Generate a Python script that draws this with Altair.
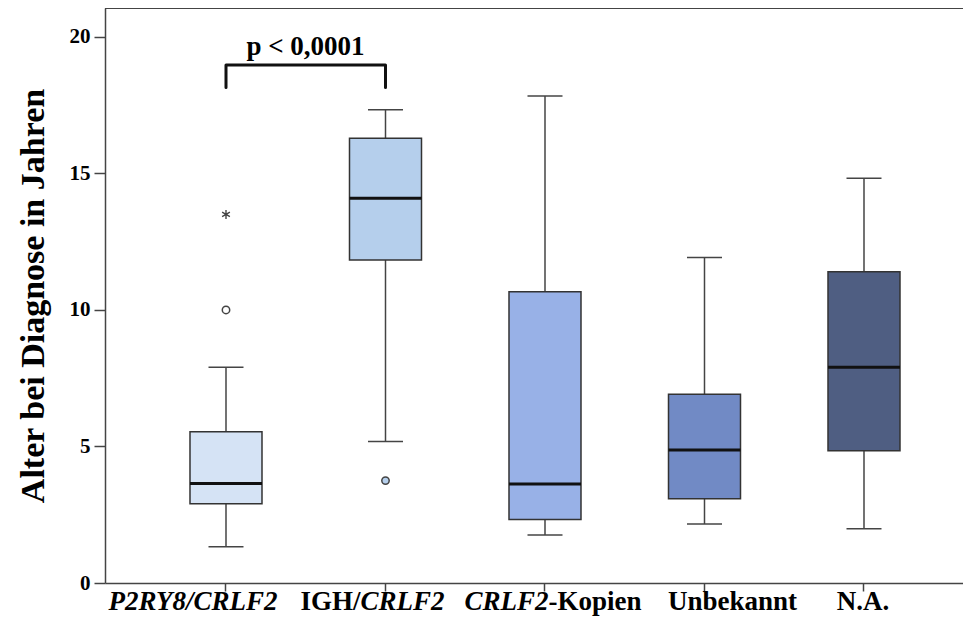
import altair as alt
import pandas as pd

# ---- data ----
categories = ["P2RY8/CRLF2", "IGH/CRLF2", "CRLF2-Kopien", "Unbekannt", "N.A."]
whisker_low = [1.33, 5.18, 1.76, 2.16, 1.99]
q1 = [2.90, 11.83, 2.33, 3.09, 4.84]
median = [3.64, 14.09, 3.63, 4.87, 7.90]
q3 = [5.54, 16.29, 10.67, 6.91, 11.40]
whisker_high = [7.90, 17.33, 17.84, 11.92, 14.82]
box_colors = ["#d5e3f5", "#b5cfec", "#98b1e7", "#718ac5", "#4f5e82"]

outlier_category = ["P2RY8/CRLF2", "P2RY8/CRLF2", "IGH/CRLF2"]
outlier_value = [10.0, 13.5, 3.75]
outlier_kind = ["circle", "star", "circle"]

y_ticks = [0, 5, 10, 15, 20]
y_title = "Alter bei Diagnose in Jahren"
p_text = "p < 0,0001"
bracket_from = "P2RY8/CRLF2"
bracket_to = "IGH/CRLF2"
bracket_top = 18.97
bracket_leg = 18.15
p_text_value = 19.33

W, H = 858, 575
SERIF = "Liberation Serif"
DARK = "#444444"

stats = pd.DataFrame({
    "cat": categories, "lo": whisker_low, "q1": q1, "med": median,
    "q3": q3, "hi": whisker_high,
})
outliers = pd.DataFrame({"cat": outlier_category, "val": outlier_value, "kind": outlier_kind})
bracket = pd.DataFrame({
    "cat": [bracket_from, bracket_from, bracket_to, bracket_to],
    "val": [bracket_leg, bracket_top, bracket_top, bracket_leg],
    "order": [0, 1, 2, 3],
})

xscale = alt.Scale(type="band", domain=categories, paddingInner=0,
                   paddingOuter=0.18966, align=0.6818)
xaxis = alt.Axis(labels=False, title=None, tickSize=8, tickColor=DARK, tickWidth=1.5,
                 domainColor=DARK, domainWidth=1.5, grid=False)
yscale = alt.Scale(domain=[0, 21.06], nice=False, zero=True)
yaxis = alt.Axis(values=y_ticks, title=y_title, titleFont=SERIF, titleFontSize=34,
                 titleFontWeight="bold", titleColor="black", titleAngle=-90,
                 titleX=-62, titleY=H / 2, titleAlign="center", titleBaseline="alphabetic",
                 labelFont=SERIF, labelFontSize=21, labelFontWeight="bold", labelColor="black",
                 labelPadding=4, tickSize=11, tickColor=DARK, tickWidth=1.5,
                 domainColor=DARK, domainWidth=1.5, grid=False)


def X():
    return alt.X("cat:N", scale=xscale, axis=xaxis, sort=categories)


def Y(field):
    return alt.Y(f"{field}:Q", scale=yscale, axis=yaxis)


base = alt.Chart(stats)

whisk_low = base.mark_rule(color=DARK, strokeWidth=1.5).encode(x=X(), y=Y("lo"), y2="q1:Q")
whisk_high = base.mark_rule(color=DARK, strokeWidth=1.5).encode(x=X(), y=Y("q3"), y2="hi:Q")
cap_low = base.mark_tick(size=35, thickness=1.5, color=DARK, opacity=1).encode(x=X(), y=Y("lo"))
cap_high = base.mark_tick(size=35, thickness=1.5, color=DARK, opacity=1).encode(x=X(), y=Y("hi"))
boxes = base.mark_bar(size=72, stroke="#333333", strokeWidth=1.5, opacity=1).encode(
    x=X(), y=Y("q1"), y2="q3:Q",
    fill=alt.Fill("cat:N", scale=alt.Scale(domain=categories, range=box_colors), legend=None),
)
medians = base.mark_tick(size=72, thickness=3, color="#111111", opacity=1).encode(x=X(), y=Y("med"))

out_base = alt.Chart(outliers)
circles = out_base.transform_filter(alt.datum.kind == "circle").mark_point(
    shape="circle", filled=True, size=55, stroke=DARK, strokeWidth=1.5, opacity=1
).encode(
    x=X(), y=Y("val"),
    fill=alt.condition(alt.datum.cat == "IGH/CRLF2", alt.value(box_colors[1]), alt.value("white")),
)
stars = out_base.transform_filter(alt.datum.kind == "star").mark_point(
    shape="M0,-1L0,1M-0.87,-0.5L0.87,0.5M-0.87,0.5L0.87,-0.5",
    filled=False, size=80, stroke=DARK, strokeWidth=1.4, opacity=1
).encode(x=X(), y=Y("val"))

bracket_line = alt.Chart(bracket).mark_line(
    color="#111111", strokeWidth=3, strokeJoin="round", strokeCap="round"
).encode(x=X(), y=Y("val"), order="order:Q")

p_label = alt.Chart(pd.DataFrame({"cat": [bracket_from], "val": [p_text_value], "t": [p_text]})).mark_text(
    font=SERIF, fontSize=27, fontWeight="bold", color="black", dx=79.5, baseline="alphabetic", align="center"
).encode(x=X(), y=Y("val"), text="t:N")

top_rule = alt.Chart(stats).mark_rule(color=DARK, strokeWidth=1.5).encode(
    x=alt.value(0), x2=alt.value(W), y=alt.value(0)
)

# x tick labels with mixed italics
LBL_Y = 602
FS = 27


def label_layer(cats, texts, italic, align, dx):
    d = pd.DataFrame({"cat": cats, "t": texts})
    return alt.Chart(d).mark_text(
        font=SERIF, fontSize=FS, fontWeight="bold", fontStyle="italic" if italic else "normal",
        color="black", align=align, baseline="alphabetic", dx=dx
    ).encode(x=X(), y=alt.value(LBL_Y), text="t:N")


lab1 = label_layer([categories[0]], ["P2RY8/CRLF2"], True, "center", -33)
lab2a = label_layer([categories[1]], ["IGH/"], False, "right", -25)
lab2b = label_layer([categories[1]], ["CRLF2"], True, "left", -25)
lab3a = label_layer([categories[2]], ["CRLF2"], True, "right", 3.5)
lab3b = label_layer([categories[2]], ["-Kopien"], False, "left", 3.5)
lab4 = label_layer([categories[3]], [categories[3]], False, "center", 28)
lab5 = label_layer([categories[4]], [categories[4]], False, "center", -1)

chart = alt.layer(
    whisk_low, whisk_high, cap_low, cap_high, boxes, medians, circles, stars,
    bracket_line, p_label, top_rule, lab1, lab2a, lab2b, lab3a, lab3b, lab4, lab5,
).properties(
    width=W, height=H,
    autosize=alt.AutoSizeParams(type="none"),
    padding={"left": 97, "top": 0, "right": 0, "bottom": 35},
    background="white",
).configure_view(stroke=None)

chart.save("out.html", embed_options={"renderer": "svg", "actions": False})
